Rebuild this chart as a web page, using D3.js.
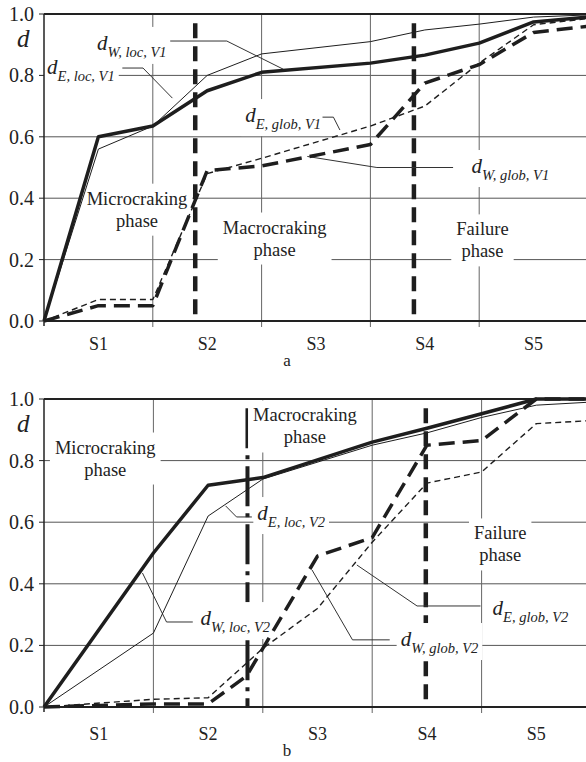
<!DOCTYPE html>
<html>
<head>
<meta charset="utf-8">
<script src="https://cdn.jsdelivr.net/npm/d3@7"></script>
<style>
body { margin: 0; background: #fff; }
svg text { font-family: "Liberation Serif", "Times New Roman", serif; fill: #222; }
</style>
</head>
<body>
<svg id="chart" width="586" height="762"></svg>
<script>
// categories and ticks
var stages = ["S1", "S2", "S3", "S4", "S5"];
var yTicks = [0, 0.2, 0.4, 0.6, 0.8, 1.0];

// panel a (V1) - x is measured in stage units (0..5)
var aLocX = [0, 0.5, 1, 1.5, 2, 3, 3.5, 4, 4.5, 5];
var aWLoc = [0, 0.60, 0.635, 0.75, 0.81, 0.84, 0.866, 0.905, 0.974, 0.99];
var aELoc = [0, 0.56, 0.635, 0.80, 0.87, 0.91, 0.948, 0.967, 0.99, 0.997];
var aWGlobX = [0, 0.5, 1, 1.5, 2, 3, 3.4, 3.5, 4, 4.5, 5];
var aWGlob = [0, 0.05, 0.05, 0.49, 0.505, 0.575, 0.735, 0.775, 0.835, 0.94, 0.96];
var aEGlobX = [0, 0.5, 1, 1.5, 2, 3, 3.5, 4, 4.5, 5];
var aEGlob = [0, 0.07, 0.07, 0.48, 0.53, 0.635, 0.70, 0.84, 0.965, 0.985];
var aPhaseX = [1.39, 3.40];

// panel b (V2)
var bLocX = [0, 1, 1.5, 2, 3, 3.5, 4, 4.5, 5];
var bWLoc = [0, 0.50, 0.72, 0.745, 0.86, 0.905, 0.952, 1.0, 1.0];
var bELoc = [0, 0.24, 0.62, 0.74, 0.85, 0.89, 0.94, 0.98, 0.99];
var bWGlobX = [0, 1, 1.5, 1.85, 2.5, 3, 3.5, 4, 4.5, 5];
var bWGlob = [0, 0.01, 0.01, 0.10, 0.49, 0.55, 0.85, 0.865, 1.0, 1.0];
var bEGlobX = [0, 1, 1.5, 2, 2.5, 3, 3.5, 4, 4.5, 5];
var bEGlob = [0, 0.025, 0.03, 0.19, 0.32, 0.535, 0.727, 0.763, 0.92, 0.93];
var bPhaseX = [1.86, 3.49];

var styles = {
    thickSolid: { w: 3.5, dash: null },
    thinSolid: { w: 1, dash: null },
    thickDash: { w: 3.5, dash: "16,8" },
    thinDash: { w: 1.4, dash: "6,4" },
    phaseDash: { w: 4.5, dash: "15,8" },
    phaseDashDot: { w: 4, dash: "40,7,4,7" }
};

function zip(xs, ys) { return xs.map((x, i) => [x, ys[i]]); }

var panels = [
    {
        name: "a", left: 44, right: 588, top: 14, bottom: 321, stageY: 350, letterY: 366,
        series: [
            { pts: zip(aEGlobX, aEGlob), style: "thinDash" },
            { pts: zip(aWGlobX, aWGlob), style: "thickDash" },
            { pts: zip(aLocX, aELoc), style: "thinSolid" },
            { pts: zip(aLocX, aWLoc), style: "thickSolid" }
        ],
        phases: [{ x: aPhaseX[0], style: "phaseDash" }, { x: aPhaseX[1], style: "phaseDash" }],
        notes: [
            { lines: ["Microcraking", "phase"], u: 0.855, v: 0.40 },
            { lines: ["Macrocraking", "phase"], u: 2.12, v: 0.306 },
            { lines: ["Failure", "phase"], u: 4.03, v: 0.30 }
        ],
        labels: [
            { sub: "W, loc, V1", u: 0.487, v: 0.883, leader: [[1.16, 0.912], [1.68, 0.912], [2.2, 0.82]] },
            { sub: "E, loc, V1", u: 0.028, v: 0.805, leader: [[0.72, 0.824], [0.91, 0.824], [1.18, 0.726]] },
            { sub: "E, glob, V1", u: 1.85, v: 0.648, leader: [[2.56, 0.664], [2.66, 0.664], [2.72, 0.622]] },
            { sub: "W, glob, V1", u: 3.93, v: 0.482, leader: [[3.76, 0.50], [3.06, 0.50], [2.42, 0.536]] }
        ]
    },
    {
        name: "b", left: 44, right: 591, top: 399, bottom: 707, stageY: 740, letterY: 756,
        series: [
            { pts: zip(bEGlobX, bEGlob), style: "thinDash" },
            { pts: zip(bWGlobX, bWGlob), style: "thickDash" },
            { pts: zip(bLocX, bELoc), style: "thinSolid" },
            { pts: zip(bLocX, bWLoc), style: "thickSolid" }
        ],
        phases: [{ x: bPhaseX[0], style: "phaseDashDot" }, { x: bPhaseX[1], style: "phaseDash" }],
        notes: [
            { lines: ["Microcraking", "phase"], u: 0.56, v: 0.844 },
            { lines: ["Macrocraking", "phase"], u: 2.385, v: 0.948 },
            { lines: ["Failure", "phase"], u: 4.17, v: 0.565 }
        ],
        labels: [
            { sub: "E, loc, V2", u: 1.95, v: 0.607, leader: [[1.90, 0.617], [1.76, 0.617], [1.66, 0.653]] },
            { sub: "W, loc, V2", u: 1.43, v: 0.266, leader: [[1.36, 0.276], [1.12, 0.276], [0.90, 0.435]] },
            { sub: "E, glob, V2", u: 4.10, v: 0.30, leader: [[3.99, 0.328], [3.41, 0.328], [2.86, 0.461]] },
            { sub: "W, glob, V2", u: 3.26, v: 0.198, leader: [[3.16, 0.218], [2.82, 0.218], [2.45, 0.445]] }
        ]
    }
];

var svg = d3.select("#chart");

function boxBehind(layer, node, pad) {
    var b = node.getBBox();
    layer.append("rect")
        .attr("x", b.x - pad).attr("y", b.y - pad)
        .attr("width", b.width + 2 * pad).attr("height", b.height + 2 * pad)
        .attr("fill", "#fff");
}

panels.forEach(function (p) {
    var x = d3.scaleLinear().domain([0, 5]).range([p.left, p.right]);
    var y = d3.scaleLinear().domain([0, 1]).range([p.bottom, p.top]);

    var g = svg.append("g");
    var gGrid = g.append("g");
    var gPhase = g.append("g");   // phase boundaries sit under the text boxes
    var gBox = g.append("g");
    var gAxis = g.append("g");
    var gLines = g.append("g");
    var gText = g.append("g");

    // grid
    gGrid.selectAll(".hg").data(yTicks.slice(1, -1)).join("line")
        .attr("x1", p.left).attr("x2", p.right)
        .attr("y1", d => y(d)).attr("y2", d => y(d))
        .attr("stroke", "#555").attr("stroke-width", 1);
    gGrid.selectAll(".vg").data([1, 2, 3, 4]).join("line")
        .attr("x1", d => x(d)).attr("x2", d => x(d))
        .attr("y1", p.top).attr("y2", p.bottom + 6)
        .attr("stroke", "#666").attr("stroke-width", 1);

    // axes
    gAxis.append("line").attr("x1", p.left).attr("x2", p.right)
        .attr("y1", p.top).attr("y2", p.top).attr("stroke", "#222").attr("stroke-width", 2);
    gAxis.append("line").attr("x1", p.left).attr("x2", p.right)
        .attr("y1", p.bottom).attr("y2", p.bottom).attr("stroke", "#222").attr("stroke-width", 2);
    gAxis.append("line").attr("x1", p.left).attr("x2", p.left)
        .attr("y1", p.top).attr("y2", p.bottom + 5).attr("stroke", "#222").attr("stroke-width", 1.5);
    gAxis.selectAll(".yt").data(yTicks).join("line")
        .attr("x1", p.left - 5).attr("x2", p.left)
        .attr("y1", d => y(d)).attr("y2", d => y(d))
        .attr("stroke", "#222").attr("stroke-width", 1);

    gText.selectAll(".ytl").data(yTicks).join("text")
        .attr("x", p.left - 10).attr("y", d => y(d)).attr("dy", "0.35em")
        .attr("text-anchor", "end").style("font-size", "20px")
        .text(d => d.toFixed(1));
    gText.append("text").attr("x", 17).attr("y", p.top + 33)
        .style("font-size", "25px").style("font-style", "italic").text("d");

    gText.selectAll(".st").data(stages).join("text")
        .attr("x", (d, i) => x(i + 0.5)).attr("y", p.stageY)
        .attr("text-anchor", "middle").style("font-size", "18px")
        .text(d => d);
    gText.append("text").attr("x", 287).attr("y", p.letterY)
        .attr("text-anchor", "middle").style("font-size", "17px").text(p.name);

    // phase boundaries
    p.phases.forEach(function (ph) {
        var st = styles[ph.style];
        gPhase.append("line")
            .attr("x1", x(ph.x)).attr("x2", x(ph.x))
            .attr("y1", y(0.97)).attr("y2", y(0))
            .attr("stroke", "#1e1e1e").attr("stroke-width", st.w)
            .attr("stroke-dasharray", st.dash);
    });

    // phase notes
    p.notes.forEach(function (n) {
        var t = gText.append("text").attr("text-anchor", "middle").style("font-size", "18.5px");
        n.lines.forEach(function (s, i) {
            t.append("tspan").attr("x", x(n.u)).attr("y", y(n.v) + i * 22).attr("dy", "0.35em").text(s);
        });
        boxBehind(gBox, t.node(), 5);
    });

    // curve labels with leaders
    p.labels.forEach(function (l) {
        var t = gText.append("text").attr("x", x(l.u)).attr("y", y(l.v))
            .style("font-style", "italic");
        t.append("tspan").style("font-size", "21px").text("d");
        t.append("tspan").attr("dy", 7).style("font-size", "14.5px").text(l.sub);
        boxBehind(gBox, t.node(), 4);
        gLines.append("path")
            .attr("d", d3.line().x(d => x(d[0])).y(d => y(d[1]))(l.leader))
            .attr("fill", "none").attr("stroke", "#333").attr("stroke-width", 1);
    });

    // data lines
    var line = d3.line().x(d => x(d[0])).y(d => y(d[1]));
    p.series.forEach(function (s) {
        var st = styles[s.style];
        gLines.append("path").datum(s.pts)
            .attr("d", line)
            .attr("fill", "none").attr("stroke", "#1e1e1e")
            .attr("stroke-width", st.w)
            .attr("stroke-dasharray", st.dash)
            .attr("stroke-linejoin", "round");
    });
});
</script>
</body>
</html>
